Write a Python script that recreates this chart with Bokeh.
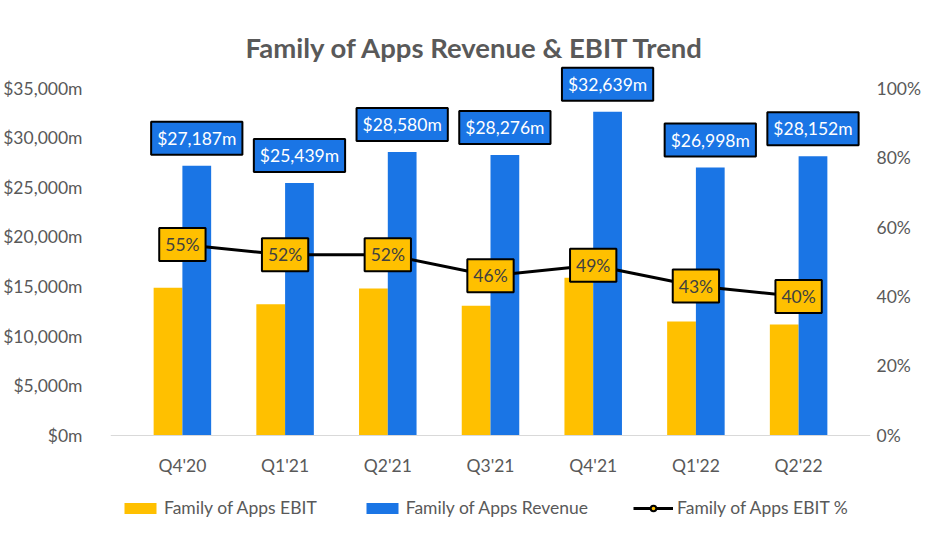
from bokeh.plotting import figure
from bokeh.models import (FactorRange, Range1d, LinearAxis, FixedTicker, ColumnDataSource,
                          Legend, LegendItem)
from bokeh.core.properties import value
from bokeh.transform import dodge
from bokeh.embed import file_html
from bokeh.resources import INLINE

quarters = ["Q4'20", "Q1'21", "Q2'21", "Q3'21", "Q4'21", "Q1'22", "Q2'22"]
revenue = [27187, 25439, 28580, 28276, 32639, 26998, 28152]
ebit = [14890, 13205, 14799, 13054, 15889, 11484, 11164]
ebit_pct = [0.55, 0.52, 0.52, 0.46, 0.49, 0.43, 0.40]

left_ticks = [0, 5000, 10000, 15000, 20000, 25000, 30000, 35000]
left_tick_labels = ["$0m", "$5,000m", "$10,000m", "$15,000m", "$20,000m", "$25,000m", "$30,000m", "$35,000m"]
right_ticks = [0.0, 0.2, 0.4, 0.6, 0.8, 1.0]
right_tick_labels = ["0%", "20%", "40%", "60%", "80%", "100%"]

FONT = "Lato"
GOLD = "#FFC000"
BLUE = "#1A75E5"
GREY = "#595959"

# 35,000m on the left lines up with 100% on the right; headroom above for labels,
# room below zero for the category labels and the legend
LEFT_MAX = 37500
LEFT_MIN = -9100
src = ColumnDataSource(dict(
    q=quarters, rev=revenue, ebit=ebit, pct=ebit_pct,
    rev_lbl=[f"${v:,}m" for v in revenue],
    pct_lbl=[f"{round(v * 100)}%" for v in ebit_pct],
))

p = figure(width=936, height=540,
           x_range=FactorRange(*quarters, range_padding=0.2, range_padding_units="absolute"),
           y_range=Range1d(LEFT_MIN, LEFT_MAX), output_backend="svg", toolbar_location=None,
           min_border_left=105, min_border_right=66, min_border_top=63, min_border_bottom=15)
p.outline_line_color = None
p.xgrid.grid_line_color = None
p.ygrid.grid_line_color = None

p.title.text = "Family of Apps Revenue & EBIT Trend"
p.title.text_font = FONT
p.title.text_font_size = "27.5px"
p.title.text_font_style = "bold"
p.title.text_color = GREY
p.title.align = "left"
p.title.offset = 135
p.title.standoff = 0

p.extra_y_ranges = {"pct": Range1d(LEFT_MIN / 35000, LEFT_MAX / 35000)}

r_ebit = p.vbar(x=dodge("q", -0.14, range=p.x_range), top="ebit", width=0.28, source=src,
                fill_color=GOLD, line_color=None)
r_rev = p.vbar(x=dodge("q", 0.14, range=p.x_range), top="rev", width=0.28, source=src,
               fill_color=BLUE, line_color=None)
r_line = p.line(x="q", y="pct", y_range_name="pct", source=src, line_color="black", line_width=3)
r_mark = p.scatter(x="q", y="pct", y_range_name="pct", source=src, size=10,
                   fill_color=GOLD, line_color="black", line_width=2)

p.text(x=dodge("q", 0.14, range=p.x_range), y="rev", text="rev_lbl", source=src,
       text_align="center", text_baseline="bottom", y_offset=-11,
       text_color="white", text_font=value(FONT), text_font_size="17.5px",
       background_fill_color=BLUE, border_line_color="black",
       border_line_width=2, padding=6)
p.text(x="q", y="pct", y_range_name="pct", text="pct_lbl", source=src,
       text_align="center", text_baseline="middle",
       text_color="#404040", text_font=value(FONT), text_font_size="17.5px",
       background_fill_color=GOLD, border_line_color="black",
       border_line_width=2, padding=6)

# left axis
ya = p.yaxis[0]
ya.ticker = FixedTicker(ticks=left_ticks)
ya.major_label_overrides = {t: l for t, l in zip(left_ticks, left_tick_labels)}
ya.axis_line_color = None
ya.major_tick_line_color = None
ya.minor_tick_line_color = None
ya.major_tick_out = 0
ya.major_tick_in = 0
ya.major_label_standoff = 28
ya.major_label_text_font = FONT
ya.major_label_text_font_size = "17.5px"
ya.major_label_text_color = GREY

# right axis
ra = LinearAxis(y_range_name="pct", ticker=FixedTicker(ticks=right_ticks),
                major_label_overrides={t: l for t, l in zip(right_ticks, right_tick_labels)})
ra.axis_line_color = None
ra.major_tick_line_color = None
ra.minor_tick_line_color = None
ra.major_tick_out = 0
ra.major_tick_in = 0
ra.major_label_standoff = 6
ra.major_label_text_font = FONT
ra.major_label_text_font_size = "17.5px"
ra.major_label_text_color = GREY
p.add_layout(ra, "right")

# x axis, pinned at zero
xa = p.xaxis[0]
xa.fixed_location = 0
xa.axis_line_color = "#D9D9D9"
xa.axis_line_width = 1
xa.major_tick_line_color = None
xa.minor_tick_line_color = None
xa.major_tick_out = 0
xa.major_tick_in = 0
xa.major_label_standoff = 20
xa.major_label_text_font = FONT
xa.major_label_text_font_size = "17.5px"
xa.major_label_text_color = GREY

legend = Legend(items=[
    LegendItem(label="Family of Apps EBIT", renderers=[r_ebit]),
    LegendItem(label="Family of Apps Revenue", renderers=[r_rev]),
    LegendItem(label="Family of Apps EBIT %", renderers=[r_line, r_mark]),
], orientation="horizontal", location=(10, 7))
legend.border_line_color = None
legend.background_fill_alpha = 0
legend.glyph_width = 40
legend.glyph_height = 14
legend.spacing = 45
legend.padding = 6
legend.margin = 0
legend.label_text_font = FONT
legend.label_text_font_size = "17.5px"
legend.label_text_color = GREY
legend.label_standoff = 4
p.add_layout(legend)

open("out.html", "w").write(file_html(p, INLINE))
